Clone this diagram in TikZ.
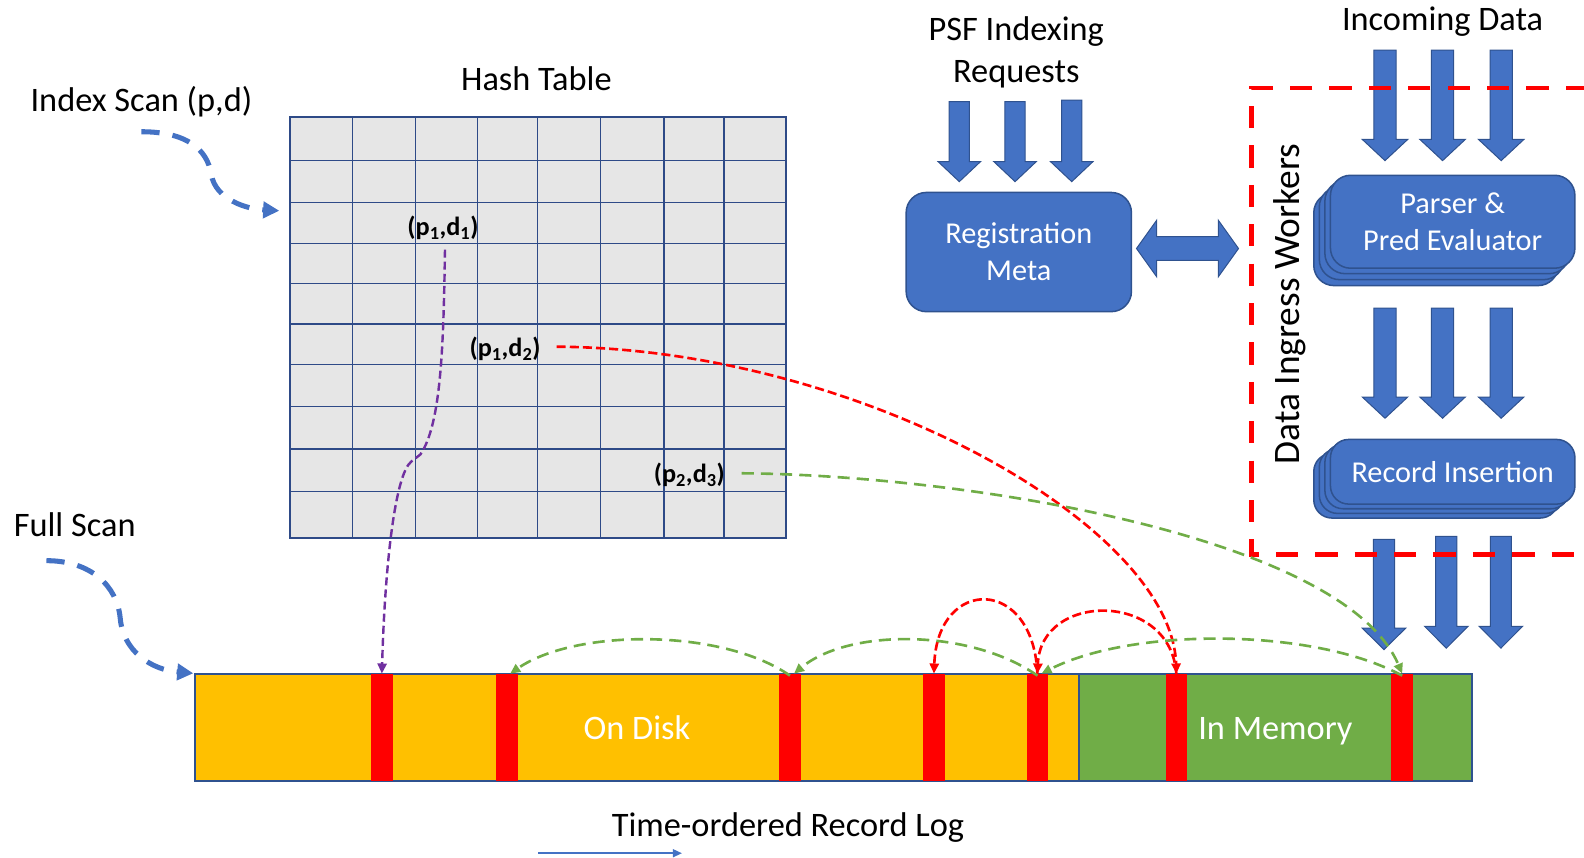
\documentclass[tikz,border=0pt]{standalone}
\usepackage{fontspec}
\setmainfont{Carlito}
\usetikzlibrary{arrows.meta}

\definecolor{offblue}{HTML}{4472C4}
\definecolor{edgeblue}{HTML}{2F528F}
\definecolor{gridblue}{HTML}{2E4A87}
\definecolor{cellgray}{HTML}{E6E6E6}
\definecolor{diskorange}{HTML}{FFC000}
\definecolor{memgreen}{HTML}{70AD47}
\definecolor{linkpurple}{HTML}{7030A0}

\tikzset{
  lbl/.style={font=\fontsize{34}{42}\selectfont, inner sep=0pt, align=center},
  boxlbl/.style={font=\fontsize{30}{36.5}\selectfont, text=white, align=center, inner sep=0pt},
  keylbl/.style={font=\bfseries\fontsize{26}{30}\selectfont, inner sep=0pt},
  bluebox/.style={fill=offblue, draw=edgeblue, line width=1.5pt},
  stacklayer/.style={bluebox, rounded corners=#1},
  gridline/.style={draw=gridblue, line width=1.1pt},
  stripe/.style={fill=red, draw=none, minimum width=21.5pt, minimum height=106pt, inner sep=0pt},
  logpart/.style={draw=edgeblue, line width=1.5pt, minimum height=106pt, inner sep=0pt,
                  text height=24pt, text depth=0pt,
                  text=white, font=\fontsize{34}{40}\selectfont},
  scanarrow/.style={draw=offblue, line width=5pt, dash pattern=on 18pt off 13pt,
                    -{Triangle[length=16pt,width=16pt,fill=offblue]}},
  redlink/.style={draw=red, line width=2.6pt, dash pattern=on 9pt off 4pt,
                  -{Triangle[length=10pt,width=9pt]}},
  greenlink/.style={draw=memgreen, line width=2.6pt, dash pattern=on 12pt off 7pt,
                    -{Triangle[length=10pt,width=9pt]}},
  purplelink/.style={draw=linkpurple, line width=2.4pt, dash pattern=on 8pt off 4pt,
                     -{Triangle[length=10pt,width=9pt]}},
  workerframe/.style={draw=red, line width=4.5pt, dash pattern=on 22pt off 17pt}
}

% downward block arrow: centre x, top, start of head, tip, shaft half width, head half width
\newcommand{\blockdown}[6]{%
  \filldraw[fill=offblue, draw=edgeblue, line width=1pt]
    ({#1-#5},{#2}) -- ({#1+#5},{#2}) -- ({#1+#5},{#3}) -- ({#1+#6},{#3}) --
    ({#1},{#4}) -- ({#1-#6},{#3}) -- ({#1-#5},{#3}) -- cycle;}

\begin{document}
\begin{tikzpicture}[x=1pt,y=-1pt]
\useasboundingbox (0,0) rectangle (1568,849);

% ---------- hash table ----------
\node[lbl] (httitle) at (531,78) {Hash Table};
\node[fill=cellgray, draw=gridblue, line width=2pt, minimum width=491pt,
      minimum height=416.8pt, inner sep=0pt] (table) at (532.5,324.5) {};
\foreach \x in {349,411,472.5,532.3,594.6,657.3,716.7}
  \draw[gridline] (\x,116.1) -- (\x,532.9);
\foreach \y in {159,200.6,240.8,280.8,320.7,360.6,402.6,444.5,486.2}
  \draw[gridline] (287,\y) -- (778,\y);
\draw[draw=gridblue, line width=2pt] (287,116.1) rectangle (778,532.9);

\node[keylbl] (k1) at (438.5,225.7) {(p\textsubscript{1},d\textsubscript{1})};
\node[keylbl] (k2) at (500,345.5) {(p\textsubscript{1},d\textsubscript{2})};
\node[keylbl] (k3) at (682.4,470.2) {(p\textsubscript{2},d\textsubscript{3})};
\coordinate (k1out) at (440.5,247);
\coordinate (k2out) at (551,343.2);
\coordinate (k3out) at (734.2,468.5);

% ---------- scan labels ----------
\node[lbl] (idxscan) at (140,101) {Index Scan (p,d)};
\node[lbl] (fullscan) at (74,519) {Full Scan};
\coordinate (idxstart) at (140,130.4);
\coordinate (idxend) at (276.5,208.6);
\coordinate (fullstart) at (46,555);
\coordinate (fullend) at (191.4,666.5);

\draw[scanarrow] (idxstart) .. controls (185,130.4) and (205,148) .. (209,172)
                 .. controls (213,198) and (245,207) .. (idxend);
\draw[scanarrow] (fullstart) .. controls (90,555) and (116,580) .. (119,612)
                 .. controls (122,645) and (150,663) .. (fullend);

% ---------- registration ----------
\node[lbl] (psf) at (1006,52) {PSF Indexing\\Requests};
\blockdown{949.6}{100.6}{160}{179.8}{10}{21}
\blockdown{1004.8}{100.6}{160}{179.8}{10}{21}
\blockdown{1060.9}{99}{160}{179.8}{10}{21}
\node[bluebox, rounded corners=20pt, minimum width=223pt, minimum height=118pt,
      boxlbl] (reg) at (1008.5,249.5) {Registration\\Meta};

% two-way block arrow between registration and the workers
\filldraw[fill=offblue, draw=edgeblue, line width=1pt]
  (1125,246) -- (1145,218) -- (1145,234.3) -- (1206,234.3) -- (1206,218) --
  (1226,246) -- (1206,274) -- (1206,257.7) -- (1145,257.7) -- (1145,274) -- cycle;

% ---------- ingress workers ----------
\node[lbl] (incoming) at (1428,21) {Incoming Data};
\foreach \cx in {1371,1428,1486}{\blockdown{\cx}{49.5}{138}{159}{11}{22.5}}

\foreach \k in {3,2,1}
  \draw[stacklayer=20pt] ({1317-5.5*\k},{173+5.9*\k}) rectangle ({1559-5.5*\k},{265+5.9*\k});
\node[bluebox, rounded corners=20pt, minimum width=242pt, minimum height=92pt,
      boxlbl] (parser) at (1438,219.5) {Parser \&\\Pred Evaluator};

\foreach \cx in {1371,1428,1486}{\blockdown{\cx}{305}{393}{414}{11}{22.5}}

\foreach \k in {3,2,1}
  \draw[stacklayer=18pt] ({1317-5.5*\k},{435+4.6*\k}) rectangle ({1559-5.5*\k},{499+4.6*\k});
\node[bluebox, rounded corners=18pt, minimum width=242pt, minimum height=64pt,
      boxlbl] (insert) at (1438,467) {Record Insertion};

\blockdown{1370}{533.9}{621.8}{643}{10.5}{21.5}
\blockdown{1431.7}{531}{620}{641.6}{10.5}{21.5}
\blockdown{1485.7}{531}{620}{641.6}{10.5}{21.5}

\node[lbl, rotate=90, font=\fontsize{37}{44}\selectfont] (workers) at (1277,301) {Data Ingress Workers};
\draw[workerframe] (1572,87) -- (1239,87) -- (1239,549) -- (1572,549);

% ---------- record log ----------
\node[logpart, fill=diskorange, minimum width=875pt] (disk) at (630.5,720) {On Disk};
\node[logpart, fill=memgreen, minimum width=389pt] (mem) at (1262.5,720) {In Memory};
\node[stripe] (r1) at (378,720) {};
\node[stripe] (r2) at (502,720) {};
\node[stripe] (r3) at (782,720) {};
\node[stripe] (r4) at (924.5,720) {};
\node[stripe] (r5) at (1027,720) {};
\node[stripe] (r6) at (1164.5,720) {};
\node[stripe] (r7) at (1388,720) {};

\node[lbl] (logtitle) at (780,819) {Time-ordered Record Log};
\coordinate (tstart) at (533,844.6);
\coordinate (tend) at (675,844.6);
\draw[offblue, line width=1.5pt, -{Triangle[length=9pt,width=8pt]}] (tstart) -- (tend);

% ---------- links from hash entries into the log ----------
\draw[purplelink] (k1out) .. controls (439,340) and (437,420) .. (416,450)
                  -- (407,457) .. controls (391,470) and (381,560) .. (r1.north);
\draw[redlink] (k2out) .. controls (850,345) and (1160,520) .. (r6.north);
\draw[redlink] ([yshift=-2pt]r6.north) .. controls (1161,585) and (1030,585) .. (r5.north);
\draw[redlink] ([yshift=-2pt]r5.north) .. controls (1024,570) and (928,570) .. (r4.north);

\draw[greenlink] ([yshift=-2pt]r7.north) .. controls (1300,621) and (1120,621) .. ([xshift=4pt]r5.north);
\draw[greenlink] ([yshift=-2pt]r5.north) .. controls (960,622) and (840,622) .. ([xshift=4pt]r3.north);
\draw[greenlink] ([yshift=-2pt]r3.north) .. controls (715,622) and (570,622) .. ([xshift=3pt]r2.north);
\draw[greenlink] (k3out) .. controls (950,470) and (1330,530) .. (r7.north);
\end{tikzpicture}
\end{document}
